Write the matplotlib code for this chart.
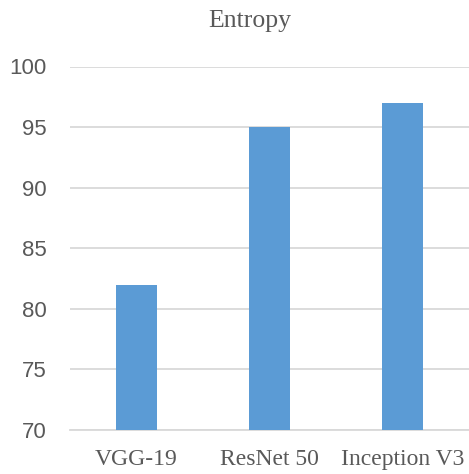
import matplotlib
matplotlib.use("Agg")
import matplotlib.pyplot as plt

categories = ["VGG-19", "ResNet 50", "Inception V3"]
values = [82, 95, 97]
yticks = [70, 75, 80, 85, 90, 95, 100]

fig = plt.figure(figsize=(4.69, 4.74), dpi=100)
ax = fig.add_axes([70/469, 1-430/474, 399/469, (430-66.5)/474])
x = range(len(categories))
ax.bar(x, values, width=0.315, color="#5B9BD5", zorder=3)
ax.set_xlim(-0.5, 2.5)
ax.set_ylim(70, 100)
ax.set_yticks(yticks)
ax.set_yticklabels([str(v) for v in yticks], family="Liberation Sans", fontsize=16, color="#595959")
ax.set_xticks(list(x))
ax.set_xticklabels(categories, family="Liberation Serif", fontsize=17, color="#595959")
ax.grid(axis="y", color="#d9d9d9", linewidth=1.3, zorder=0)
for s in ["top", "right", "left"]:
    ax.spines[s].set_visible(False)
ax.spines["bottom"].set_color("#d9d9d9")
ax.spines["bottom"].set_linewidth(1.3)
ax.tick_params(axis="both", length=0)
ax.tick_params(axis="y", pad=17)
ax.tick_params(axis="x", pad=14)
fig.text(250/469, 1-21/474, "Entropy", ha="center", va="center", family="Liberation Serif", fontsize=18.5, color="#595959")
fig.savefig("out.png", dpi=100)
